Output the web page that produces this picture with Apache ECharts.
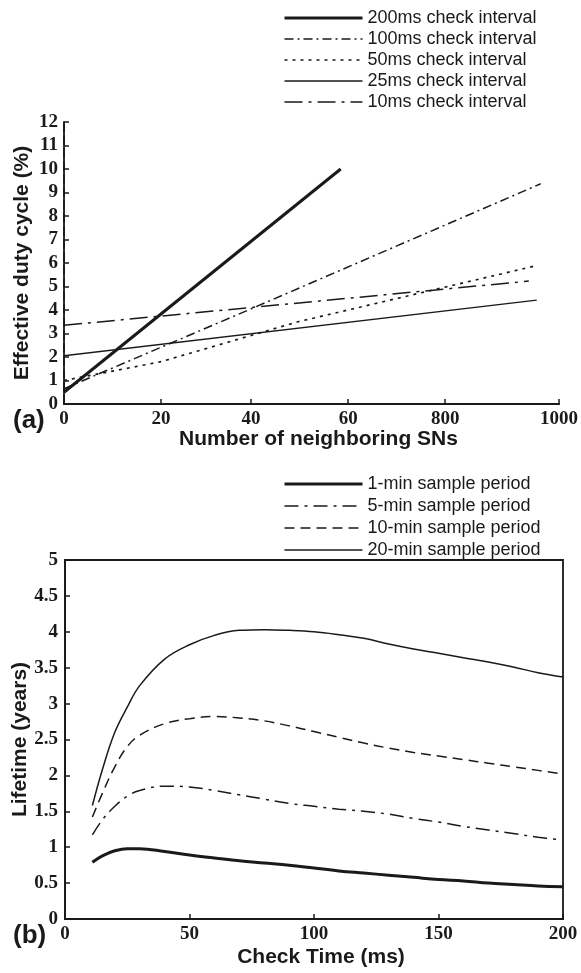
<!doctype html>
<html lang="en">
<head>
    <meta charset="UTF-8">
    <title>Duty cycle and lifetime</title>
    <style>
        *{
            margin:0;
            padding:0;
        }
        html,body {
            height:100%;
            background:#fff;
        }
        #main{
            width:581px;
            height:973px;
        }
    </style>
</head>
<body>

<div id="main"></div>
<script src="https://cdn.jsdelivr.net/npm/echarts@6/dist/echarts.min.js"></script>
<script>

    // (a) x axis is broken in the original: ticks are placed by position, labelled by value
    var xTickPos = [0, 19.6, 37.8, 57.4, 77.0, 100];
    var xTickLabels = ['0', '20', '40', '60', '800', '1000'];

    // [axis position, effective duty cycle %]
    var duty200 = [[0, 0.5], [55.9, 10.0]];
    var duty100 = [[0, 0.65], [37.8, 4.05], [96.3, 9.37]];
    var duty50 = [[0, 1.0], [19.6, 1.8], [47.3, 3.5], [95.7, 5.9]];
    var duty25 = [[0, 2.05], [95.5, 4.42]];
    var duty10 = [[0, 3.35], [93.9, 5.23]];

    // (b) lifetime in years against check time (ms)
    var checkTime = [11, 15, 20, 25, 30, 40, 50, 60, 70, 80, 90, 100, 110, 120, 130, 140, 150, 160, 170, 180, 190, 200];
    var life1 = [0.79, 0.88, 0.95, 0.98, 0.98, 0.94, 0.89, 0.85, 0.81, 0.78, 0.75, 0.71, 0.67, 0.64, 0.61, 0.58, 0.55, 0.53, 0.50, 0.48, 0.46, 0.45];
    var life5 = [1.17, 1.38, 1.57, 1.71, 1.79, 1.85, 1.84, 1.79, 1.73, 1.67, 1.61, 1.57, 1.53, 1.50, 1.46, 1.40, 1.35, 1.29, 1.24, 1.19, 1.14, 1.10];
    var life10 = [1.42, 1.75, 2.12, 2.40, 2.56, 2.72, 2.79, 2.82, 2.80, 2.76, 2.69, 2.61, 2.53, 2.45, 2.38, 2.32, 2.27, 2.22, 2.17, 2.12, 2.07, 2.02];
    var life20 = [1.58, 2.08, 2.60, 2.95, 3.25, 3.62, 3.82, 3.95, 4.02, 4.03, 4.02, 4.00, 3.96, 3.91, 3.83, 3.76, 3.70, 3.64, 3.58, 3.51, 3.43, 3.37];

    var ink = '#1a1a1a';
    var tickFont = { fontFamily: 'Liberation Serif', fontWeight: 'bold', fontSize: 19, color: ink };
    var nameFont = { fontFamily: 'Liberation Sans', fontWeight: 'bold', fontSize: 21, color: ink };

    // style per series: [width, type]
    var styles = {
        '200ms check interval': [3, 'solid'],
        '100ms check interval': [1.5, [9, 4, 2, 4]],
        '50ms check interval': [1.7, [3, 5]],
        '25ms check interval': [1.5, 'solid'],
        '10ms check interval': [1.5, [18, 6, 3, 6]],
        '1-min sample period': [3, 'solid'],
        '5-min sample period': [1.5, [14, 6, 3, 6]],
        '10-min sample period': [1.5, [10, 6]],
        '20-min sample period': [1.5, 'solid']
    };

    function pair(xs, ys) {
        return xs.map(function (x, i) { return [x, ys[i]]; });
    }

    function line(name, data, xi, yi, smooth) {
        return {
            name: name,
            type: 'line',
            xAxisIndex: xi,
            yAxisIndex: yi,
            data: data,
            symbol: 'none',
            smooth: smooth || false,
            lineStyle: { color: ink, width: styles[name][0], type: styles[name][1] },
            itemStyle: { color: ink }
        };
    }

    function legendItems(names) {
        return names.map(function (n) {
            return { name: n, lineStyle: { color: ink, width: styles[n][0], type: styles[n][1] } };
        });
    }

    var myChart = echarts.init(document.getElementById('main'));

    myChart.setOption({
        animation: false,
        backgroundColor: '#fff',
        title: [
            { text: '(a)', left: 8, top: 403, textStyle: { fontFamily: 'Liberation Sans', fontWeight: 'bold', fontSize: 26, color: ink } },
            { text: '(b)', left: 8, top: 918, textStyle: { fontFamily: 'Liberation Sans', fontWeight: 'bold', fontSize: 26, color: ink } }
        ],
        legend: [
            {
                orient: 'vertical', left: 283, top: 9, padding: 0,
                itemWidth: 78, itemHeight: 10, itemGap: 3,
                selectedMode: false,
                itemStyle: { opacity: 0 },
                textStyle: { fontFamily: 'Liberation Sans', fontSize: 18, color: ink },
                data: legendItems(['200ms check interval', '100ms check interval', '50ms check interval', '25ms check interval', '10ms check interval'])
            },
            {
                orient: 'vertical', left: 283, top: 475, padding: 0,
                itemWidth: 78, itemHeight: 10, itemGap: 4,
                selectedMode: false,
                itemStyle: { opacity: 0 },
                textStyle: { fontFamily: 'Liberation Sans', fontSize: 18, color: ink },
                data: legendItems(['1-min sample period', '5-min sample period', '10-min sample period', '20-min sample period'])
            }
        ],
        grid: [
            { left: 64, right: 18, top: 122, height: 282 },
            { left: 65, right: 18, top: 560, height: 359, show: true, borderColor: ink, borderWidth: 1.8 }
        ],
        xAxis: [
            {
                type: 'value', gridIndex: 0, min: 0, max: 100, interval: 20,
                name: 'Number of neighboring SNs', nameLocation: 'middle', nameGap: 25,
                nameMoveOverlap: false,
                nameTextStyle: Object.assign({ padding: [0, 0, 0, 14] }, nameFont),
                axisLine: { lineStyle: { color: ink, width: 1.8 } },
                axisTick: { inside: true, length: 5, customValues: xTickPos, lineStyle: { color: ink, width: 1.5 } },
                axisLabel: Object.assign({
                    margin: 6,
                    customValues: xTickPos,
                    formatter: function (v) {
                        var i = xTickPos.findIndex(function (p) { return Math.abs(p - v) < 0.01; });
                        return i >= 0 ? xTickLabels[i] : xTickLabels[Math.round(v / 20)];
                    }
                }, tickFont),
                splitLine: { show: false }
            },
            {
                type: 'value', gridIndex: 0, position: 'top', min: 0, max: 100,
                axisLine: { show: true, lineStyle: { color: ink, width: 1.8 } },
                axisTick: { show: false }, axisLabel: { show: false }, splitLine: { show: false }
            },
            {
                type: 'value', gridIndex: 1, min: 0, max: 200, interval: 50,
                name: 'Check Time (ms)', nameLocation: 'middle', nameGap: 28,
                nameMoveOverlap: false,
                nameTextStyle: Object.assign({ padding: [0, 0, 0, 14] }, nameFont),
                axisLine: { lineStyle: { color: ink, width: 1.8 } },
                axisTick: { inside: true, length: 5, lineStyle: { color: ink, width: 1.5 } },
                axisLabel: Object.assign({ margin: 6 }, tickFont),
                splitLine: { show: false }
            }
        ],
        yAxis: [
            {
                type: 'value', gridIndex: 0, min: 0, max: 12, interval: 1,
                name: 'Effective duty cycle (%)', nameLocation: 'middle', nameGap: 31,
                nameMoveOverlap: false,
                nameTextStyle: nameFont,
                axisLine: { show: true, lineStyle: { color: ink, width: 1.8 } },
                axisTick: { show: true, inside: true, length: 5, lineStyle: { color: ink, width: 1.5 } },
                axisLabel: Object.assign({ margin: 6 }, tickFont),
                splitLine: { show: false }
            },
            {
                type: 'value', gridIndex: 0, position: 'right', min: 0, max: 12,
                axisLine: { show: true, lineStyle: { color: ink, width: 1.8, type: [8, 5] } },
                axisTick: { show: false }, axisLabel: { show: false }, splitLine: { show: false }
            },
            {
                type: 'value', gridIndex: 1, min: 0, max: 5, interval: 0.5,
                name: 'Lifetime (years)', nameLocation: 'middle', nameGap: 34,
                nameMoveOverlap: false,
                nameTextStyle: nameFont,
                axisLine: { show: true, lineStyle: { color: ink, width: 1.8 } },
                axisTick: { show: true, inside: true, length: 5, lineStyle: { color: ink, width: 1.5 } },
                axisLabel: Object.assign({ margin: 7 }, tickFont),
                splitLine: { show: false }
            }
        ],
        series: [
            line('200ms check interval', duty200, 0, 0),
            line('100ms check interval', duty100, 0, 0),
            line('50ms check interval', duty50, 0, 0),
            line('25ms check interval', duty25, 0, 0),
            line('10ms check interval', duty10, 0, 0),

            line('1-min sample period', pair(checkTime, life1), 2, 2, 0.4),
            line('5-min sample period', pair(checkTime, life5), 2, 2, 0.4),
            line('10-min sample period', pair(checkTime, life10), 2, 2, 0.4),
            line('20-min sample period', pair(checkTime, life20), 2, 2, 0.4)
        ]
    });

</script>
</body>
</html>
